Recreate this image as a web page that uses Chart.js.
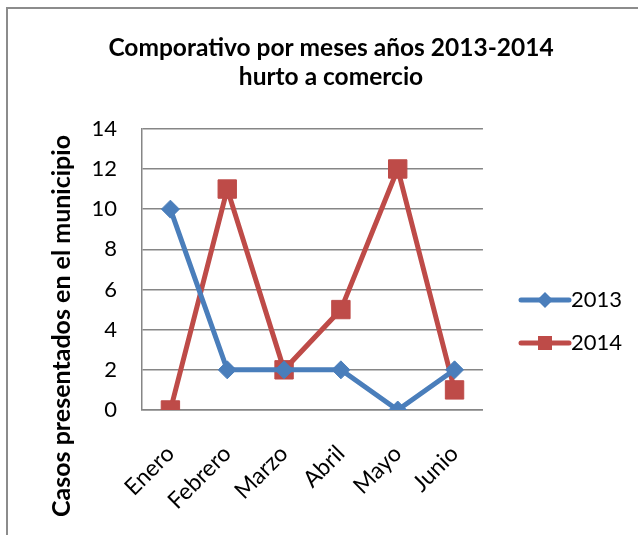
<!DOCTYPE html>
<html>
<head>
<meta charset="utf-8">
<script src="https://cdn.jsdelivr.net/npm/chart.js@4.4.1/dist/chart.umd.min.js"></script>
<style>
  html, body { margin: 0; padding: 0; background: #fff; }
  #wrap { position: relative; width: 638px; height: 535px; overflow: hidden; }
  #frame { position: absolute; left: 6px; top: 7px; width: 660px; height: 560px; border: 2px solid #8c8c8c; box-sizing: border-box; pointer-events: none; }
</style>
</head>
<body>
<div id="wrap">
  <canvas id="chart"></canvas>
  <div id="frame"></div>
</div>
<script>
const months = ['Enero', 'Febrero', 'Marzo', 'Abril', 'Mayo', 'Junio'];
const casos2013 = [10, 2, 2, 2, 0, 2];
const casos2014 = [0, 11, 2, 5, 12, 1];
const seriesNames = ['2013', '2014'];
const titleLines = ['Comporativo por meses años 2013-2014', 'hurto a comercio'];
const yAxisTitle = 'Casos presentados en el municipio';

const BLUE = '#4A7EBB';
const RED = '#BE4B48';
const FONT = 'Lato';

// legend swatch: line with the marker in the middle, like Excel
function legendSwatch(color, shape) {
    const c = document.createElement('canvas');
    c.width = 64; c.height = 20;
    const g = c.getContext('2d');
    g.strokeStyle = color; g.fillStyle = color;
    g.lineWidth = 5; g.lineCap = 'round';
    g.beginPath(); g.moveTo(13, 10); g.lineTo(61, 10); g.stroke();
    if (shape === 'diamond') {
        g.beginPath(); g.moveTo(37, 2); g.lineTo(45, 10); g.lineTo(37, 18); g.lineTo(29, 10); g.closePath(); g.fill();
    } else {
        g.fillRect(30, 3, 14, 14);
    }
    return c;
}

const yTitlePlugin = {
    id: 'yTitle',
    afterDraw(chart) {
        const ctx = chart.ctx;
        const area = chart.chartArea;
        ctx.save();
        ctx.translate(area.left - 80, 326);
        ctx.rotate(-Math.PI / 2);
        ctx.font = `bold 25px ${FONT}`;
        ctx.fillStyle = '#000';
        ctx.textAlign = 'center';
        ctx.textBaseline = 'middle';
        ctx.fillText(yAxisTitle, 0, 0);
        ctx.restore();
    }
};

const swatches = [legendSwatch(BLUE, 'diamond'), legendSwatch(RED, 'square')];

new Chart(document.getElementById('chart'), {
    type: 'line',
    data: {
        labels: months,
        datasets: [{
            label: seriesNames[0], data: casos2013,
            borderColor: BLUE, backgroundColor: BLUE, borderWidth: 5,
            pointStyle: 'rectRot', pointRadius: 9, pointHoverRadius: 9,
            pointBackgroundColor: BLUE, pointBorderColor: BLUE, pointBorderWidth: 1,
            tension: 0
        }, {
            label: seriesNames[1], data: casos2014,
            borderColor: RED, backgroundColor: RED, borderWidth: 5,
            pointStyle: 'rect', pointRadius: 13, pointHoverRadius: 13,
            pointBackgroundColor: RED, pointBorderColor: RED, pointBorderWidth: 1,
            tension: 0
        }]
    },
    options: {
        responsive: true, maintainAspectRatio: false, animation: false,
        layout: { padding: { left: 30, right: 6, top: 0, bottom: 14 } },
        scales: {
            x: {
                offset: true,
                afterFit: scale => { scale.height = 111; },
                grid: { display: false },
                border: { display: true, color: '#868686', width: 1.5 },
                ticks: { color: '#000', font: { family: FONT, size: 23 }, minRotation: 45, maxRotation: 45, padding: 22 }
            },
            y: {
                min: 0, max: 14,
                afterFit: scale => { scale.width = 112; },
                grid: { color: '#868686', lineWidth: 1.5, drawTicks: false },
                border: { display: true, color: '#868686', width: 1.5 },
                ticks: { stepSize: 2, color: '#000', font: { family: FONT, size: 22 }, padding: 25 }
            },
            // empty right axis, only keeps a gap between the plot and the legend
            gap: {
                position: 'right', min: 0, max: 14,
                afterFit: scale => { scale.width = 16; },
                grid: { display: false }, border: { display: false },
                ticks: { display: false }
            }
        },
        plugins: {
            title: {
                display: true, text: titleLines, color: '#000',
                font: { family: FONT, size: 24.5, weight: 'bold', lineHeight: 1.2 },
                padding: { top: 33, bottom: 37 }
            },
            legend: {
                position: 'right',
                maxWidth: 180,
                title: { display: true, text: '', font: { size: 10 }, padding: { top: 110, bottom: 0 } },
                labels: {
                    color: '#000', font: { family: FONT, size: 22 },
                    usePointStyle: true, pointStyleWidth: 40, padding: 21,
                    generateLabels: chart => chart.data.datasets.map((ds, i) => ({
                        text: ds.label, pointStyle: swatches[i], datasetIndex: i,
                        fillStyle: ds.borderColor, strokeStyle: ds.borderColor, lineWidth: 0,
                        fontColor: '#000', hidden: false
                    }))
                }
            },
            tooltip: { enabled: false }
        }
    },
    plugins: [yTitlePlugin]
});
</script>
</body>
</html>
